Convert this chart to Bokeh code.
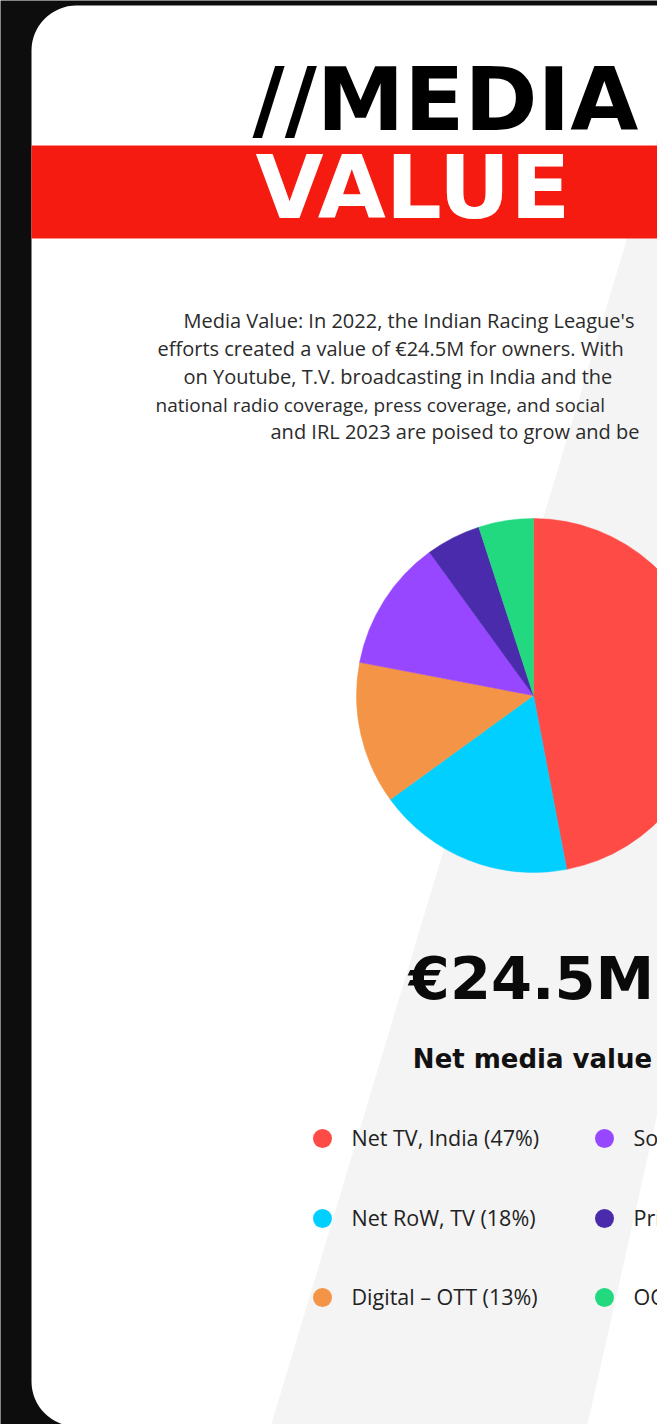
import numpy as np
from bokeh.plotting import figure
from bokeh.models import Range1d, ColumnDataSource, BoxAnnotation
from bokeh.core.properties import value
from bokeh.embed import file_html
from bokeh.resources import INLINE

# ---------------- data ----------------
categories = ["Net TV, India", "Net RoW, TV", "Digital \u2013 OTT", "Social Media", "Print", "OOH"]
shares = [47, 18, 13, 12, 5, 5]
colors = ["#FF4B46", "#00CFFF", "#F39446", "#9747FF", "#4A2BAB", "#23D980"]
total_value = "\u20ac24.5M"
total_caption = "Net media value"
title_line1 = "//MEDIA"
title_line2 = "VALUE"
paragraph = [
    "Media Value: In 2022, the Indian Racing League's",
    "efforts created a value of \u20ac24.5M for owners. With",
    "on Youtube, T.V. broadcasting in India and the",
    "national radio coverage, press coverage, and social",
    "and IRL 2023 are poised to grow and be",
]

# ---------------- layout helpers (reference pixel coords, y down) ----------------
W, H = 657, 1424
def Y(y):
    return H - y

def TB(y, fs):
    # baseline position, compensating the renderer's downward text offset
    return Y(y - 0.38 * fs)

p = figure(width=W, height=H, output_backend="svg", toolbar_location=None,
           x_range=Range1d(0, W), y_range=Range1d(0, H),
           min_border=0, x_axis_location=None, y_axis_location=None)
p.grid.visible = False
p.outline_line_color = None
p.background_fill_color = "#0d0d0d"
p.border_fill_color = "#0d0d0d"

# card
card = BoxAnnotation(left=31, right=760, top=Y(5), bottom=Y(1426),
                     fill_color="#FFFFFF", fill_alpha=1.0, line_color=None,
                     border_radius=45, level="underlay")
p.add_layout(card)

# light grey diagonal band and white stripe
def gx(y):
    return 626 - 0.30 * (y - 240)
p.patch(x=[gx(5), 760, 760, gx(1426)], y=[Y(5), Y(5), Y(1426), Y(1426)],
        fill_color="#F4F4F4", line_color=None)
def wx(y):
    return 657 - 0.225 * (y - 1113)
p.patch(x=[wx(900), 760, 760, wx(1426)], y=[Y(900), Y(900), Y(1426), Y(1426)],
        fill_color="#FFFFFF", line_color=None)

# red band
p.patch(x=[31, 760, 760, 31], y=[Y(145), Y(145), Y(238), Y(238)],
        fill_color="#F51B10", line_color=None)

# title
TFS = 88
p.text(x=[252], y=[TB(132, TFS)], text=[title_line1], text_font=value("DejaVu Sans"),
       text_font_style="bold", text_font_size=f"{TFS}px", text_color="#000000",
       text_align="left", text_baseline="alphabetic")
p.text(x=[255], y=[TB(220, TFS)], text=[title_line2], text_font=value("DejaVu Sans"),
       text_font_style="bold", text_font_size=f"{TFS}px", text_color="#FFFFFF",
       text_align="left", text_baseline="alphabetic")

# paragraph
para_x = [183, 157, 183, 155, 270]
para_base = [328, 356, 384, 411.5, 439]
para_fs = [20, 20, 20, 19, 20]
for tx, tb, tt, fs in zip(para_x, para_base, paragraph, para_fs):
    p.text(x=[tx], y=[TB(tb, fs)], text=[tt],
           text_font=value("Open Sans"), text_font_size=f"{fs}px", text_color="#2b2b2b",
           text_align="left", text_baseline="alphabetic")

# pie
cx, cy, r = 533, Y(695), 177
frac = np.array(shares, dtype=float) / sum(shares)
cum = np.concatenate([[0.0], np.cumsum(frac)])
start = np.pi / 2 - 2 * np.pi * cum[:-1]
end = np.pi / 2 - 2 * np.pi * cum[1:]
src = ColumnDataSource(dict(start=start, end=end, color=colors, cat=categories))
p.wedge(x=cx, y=cy, radius=r, start_angle="start", end_angle="end",
        direction="clock", fill_color="color", line_color="color", line_width=0.5,
        source=src)

# big value and caption
VFS = 59
p.text(x=[531], y=[TB(1000, VFS)], text=[total_value], text_font=value("DejaVu Sans"),
       text_font_style="bold", text_font_size=f"{VFS}px", text_color="#0a0a0a",
       text_align="center", text_baseline="alphabetic")
CFS = 26
p.text(x=[532], y=[TB(1068, CFS)], text=[total_caption], text_font=value("DejaVu Sans"),
       text_font_style="bold", text_font_size=f"{CFS}px", text_color="#111111",
       text_align="center", text_baseline="alphabetic")

# legend
col_x = [322, 322, 322, 604, 604, 604]
row_y = [1138, 1218, 1297, 1138, 1218, 1297]
labels = [f"{c} ({s}%)" for c, s in zip(categories, shares)]
p.scatter(x=col_x, y=[Y(v) for v in row_y], marker="circle", size=19,
          fill_color=colors, line_color=None)
LFS = 21.5
p.text(x=[v + 29 for v in col_x], y=[TB(v + 7.5, LFS) for v in row_y], text=labels,
       text_font=value("Open Sans"), text_font_size=f"{LFS}px", text_color="#222222",
       text_align="left", text_baseline="alphabetic")

open("out.html", "w").write(file_html(p, INLINE))
